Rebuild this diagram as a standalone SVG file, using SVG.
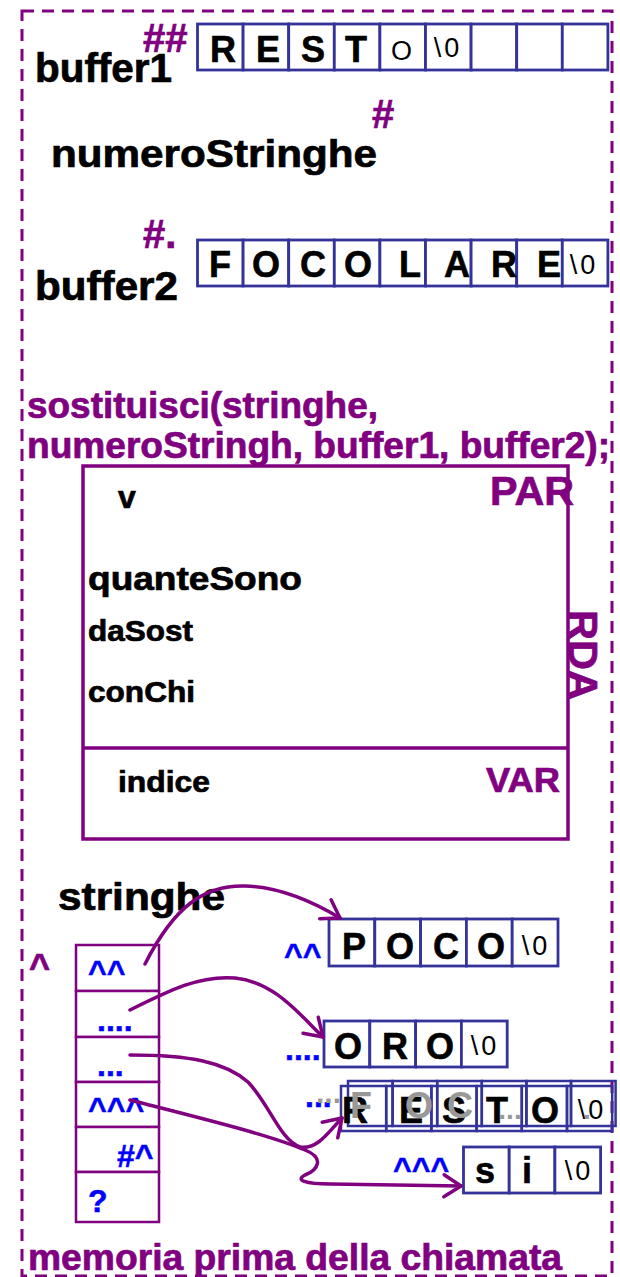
<svg xmlns="http://www.w3.org/2000/svg" width="620" height="1277" viewBox="0 0 620 1277">
<style>
  text { font-family: "Liberation Sans", Arial, sans-serif; font-weight: bold; }
  .blk { fill: #000; stroke: #000; stroke-width: 0.7px; }
  .pur { fill: #800080; stroke: #800080; stroke-width: 0.7px; }
  .gry { fill: #999999; }
  .cell { fill: #fff; stroke: #333399; stroke-width: 2.8; }
  .ocell { fill: none; stroke: #333399; stroke-width: 2.5; }
  .scell { fill: #fff; stroke: #800080; stroke-width: 2.5; }
  .ch { font-size: 36px; text-anchor: middle; fill: #000; stroke: #000; stroke-width: 0.6px; }
  .rg { font-weight: normal; font-size: 27px; text-anchor: middle; fill: #000; letter-spacing: 3px; }
  .mk { font-size: 32px; fill: #0000FF; stroke: #0000FF; stroke-width: 0.5px; }
  .conn { fill: none; stroke: #800080; stroke-width: 3.5; stroke-linecap: round; }
</style>
<defs>
  <marker id="arr" markerWidth="24" markerHeight="28" refX="20" refY="14" orient="auto" markerUnits="userSpaceOnUse" viewBox="0 0 24 28" overflow="visible">
    <path d="M3,3 L20,14 L3,25" fill="none" stroke="#800080" stroke-width="3.5" stroke-linecap="round" stroke-linejoin="round"/>
  </marker>
</defs>
<rect width="620" height="1277" fill="#fff"/>

<g id="frame">
  <rect x="22" y="11" width="590" height="1265" fill="none" stroke="#800080" stroke-width="3" stroke-dasharray="12 8"/>
</g>

<g id="buffer1">
  <text class="pur" x="143" y="52" font-size="40">##</text>
  <text class="blk" x="35" y="82" font-size="40" textLength="137" lengthAdjust="spacingAndGlyphs">buffer1</text>
  <rect class="cell" x="197.5" y="24" width="45.6" height="46"/>
  <rect class="cell" x="243.1" y="24" width="45.6" height="46"/>
  <rect class="cell" x="288.7" y="24" width="45.6" height="46"/>
  <rect class="cell" x="334.3" y="24" width="45.6" height="46"/>
  <rect class="cell" x="379.9" y="24" width="45.6" height="46"/>
  <rect class="cell" x="425.5" y="24" width="45.6" height="46"/>
  <rect class="cell" x="471.1" y="24" width="45.6" height="46"/>
  <rect class="cell" x="516.7" y="24" width="45.6" height="46"/>
  <rect class="cell" x="562.3" y="24" width="45.6" height="46"/>
  <text class="ch" x="223" y="62">R</text>
  <text class="ch" x="268" y="62">E</text>
  <text class="ch" x="313" y="62">S</text>
  <text class="ch" x="356" y="62">T</text>
  <text class="rg" x="403" y="60" font-size="29" letter-spacing="0">O</text>
  <text class="rg" x="448" y="57">\0</text>
</g>

<g id="numeroStringhe">
  <text class="pur" x="372" y="128" font-size="40">#</text>
  <text class="blk" x="51" y="167" font-size="39" textLength="326" lengthAdjust="spacingAndGlyphs">numeroStringhe</text>
</g>

<g id="buffer2">
  <text class="pur" x="143" y="248" font-size="40">#.</text>
  <text class="blk" x="35" y="300" font-size="40" textLength="143" lengthAdjust="spacingAndGlyphs">buffer2</text>
  <rect class="cell" x="197.5" y="240" width="45.6" height="46"/>
  <rect class="cell" x="243.1" y="240" width="45.6" height="46"/>
  <rect class="cell" x="288.7" y="240" width="45.6" height="46"/>
  <rect class="cell" x="334.3" y="240" width="45.6" height="46"/>
  <rect class="cell" x="379.9" y="240" width="45.6" height="46"/>
  <rect class="cell" x="425.5" y="240" width="45.6" height="46"/>
  <rect class="cell" x="471.1" y="240" width="45.6" height="46"/>
  <rect class="cell" x="516.7" y="240" width="45.6" height="46"/>
  <rect class="cell" x="562.3" y="240" width="45.6" height="46"/>
  <text class="ch" x="220" y="277">F</text>
  <text class="ch" x="266" y="277">O</text>
  <text class="ch" x="313" y="277">C</text>
  <text class="ch" x="358" y="277">O</text>
  <text class="ch" x="410" y="277">L</text>
  <text class="ch" x="457" y="277">A</text>
  <text class="ch" x="504" y="277">R</text>
  <text class="ch" x="549" y="277">E</text>
  <text class="rg" x="584" y="274">\0</text>
</g>

<g id="call">
  <text class="pur" x="27" y="418" font-size="36" textLength="351" lengthAdjust="spacingAndGlyphs">sostituisci(stringhe,</text>
  <text class="pur" x="27" y="458" font-size="36" textLength="583" lengthAdjust="spacingAndGlyphs">numeroStringh, buffer1, buffer2);</text>
</g>

<g id="rda">
  <rect x="83" y="466" width="485" height="373" fill="none" stroke="#800080" stroke-width="3.5"/>
  <line x1="83" y1="748" x2="568" y2="748" stroke="#800080" stroke-width="3.5"/>
  <text class="pur" x="490" y="505" font-size="40" textLength="84" lengthAdjust="spacingAndGlyphs">PAR</text>
  <text class="pur" transform="translate(569,610) rotate(90)" font-size="40" textLength="90" lengthAdjust="spacingAndGlyphs">RDA</text>
  <text class="pur" x="486" y="792" font-size="35" textLength="74" lengthAdjust="spacingAndGlyphs">VAR</text>
  <text class="blk" x="118" y="508" font-size="32">v</text>
  <text class="blk" x="88" y="590" font-size="33" textLength="214" lengthAdjust="spacingAndGlyphs">quanteSono</text>
  <text class="blk" x="88" y="641" font-size="29" textLength="105" lengthAdjust="spacingAndGlyphs">daSost</text>
  <text class="blk" x="88" y="702" font-size="29" textLength="107" lengthAdjust="spacingAndGlyphs">conChi</text>
  <text class="blk" x="118" y="792" font-size="29" textLength="92" lengthAdjust="spacingAndGlyphs">indice</text>
</g>

<g id="stringhe">
  <text class="blk" x="58" y="910" font-size="38" textLength="167" lengthAdjust="spacingAndGlyphs">stringhe</text>
  <text class="pur" x="29" y="979" font-size="36">^</text>
  <rect class="scell" x="76" y="945" width="83" height="46"/>
  <rect class="scell" x="76" y="991" width="83" height="46"/>
  <rect class="scell" x="76" y="1037" width="83" height="45"/>
  <rect class="scell" x="76" y="1082" width="83" height="45"/>
  <rect class="scell" x="76" y="1127" width="83" height="45"/>
  <rect class="scell" x="76" y="1172" width="83" height="50"/>
  <text class="mk" x="88" y="983">^^</text>
  <text class="mk" x="97" y="1031">....</text>
  <text class="mk" x="97" y="1076">...</text>
  <text class="mk" x="88" y="1120">^^^</text>
  <text class="mk" x="117" y="1167">#^</text>
  <text class="mk" x="88" y="1212">?</text>
</g>

<g id="poco">
  <text class="mk" x="284" y="966">^^</text>
  <rect class="cell" x="329" y="919" width="45.8" height="47"/>
  <rect class="cell" x="374.8" y="919" width="45.8" height="47"/>
  <rect class="cell" x="420.6" y="919" width="45.8" height="47"/>
  <rect class="cell" x="466.4" y="919" width="45.8" height="47"/>
  <rect class="cell" x="512.2" y="919" width="45.8" height="47"/>
  <text class="ch" x="354" y="959">P</text>
  <text class="ch" x="400" y="959">O</text>
  <text class="ch" x="446" y="959">C</text>
  <text class="ch" x="491" y="959">O</text>
  <text class="rg" x="536" y="955">\0</text>
</g>

<g id="oro">
  <text class="mk" x="285" y="1060">....</text>
  <rect class="cell" x="324" y="1021" width="45.8" height="46"/>
  <rect class="cell" x="369.8" y="1021" width="45.8" height="46"/>
  <rect class="cell" x="415.6" y="1021" width="45.8" height="46"/>
  <rect class="cell" x="461.4" y="1021" width="45.8" height="46"/>
  <text class="ch" x="348" y="1059">O</text>
  <text class="ch" x="395" y="1059">R</text>
  <text class="ch" x="440" y="1059">O</text>
  <text class="rg" x="485" y="1055">\0</text>
</g>

<g id="resto">
  <text class="mk" x="305" y="1107">...</text>
  <text class="gry" x="316" y="1103" font-size="30">...</text>
  <rect class="ocell" x="341" y="1086" width="45.2" height="45"/>
  <rect class="ocell" x="386.2" y="1086" width="45.2" height="45"/>
  <rect class="ocell" x="431.4" y="1086" width="45.2" height="45"/>
  <rect class="ocell" x="476.6" y="1086" width="45.2" height="45"/>
  <rect class="ocell" x="521.8" y="1086" width="45.2" height="45"/>
  <rect class="ocell" x="567" y="1086" width="45.2" height="45"/>
  <rect class="ocell" x="348" y="1081" width="44.6" height="45"/>
  <rect class="ocell" x="392.6" y="1081" width="44.6" height="45"/>
  <rect class="ocell" x="437.2" y="1081" width="44.6" height="45"/>
  <rect class="ocell" x="481.8" y="1081" width="44.6" height="45"/>
  <rect class="ocell" x="526.4" y="1081" width="44.6" height="45"/>
  <rect class="ocell" x="571" y="1081" width="44.6" height="45"/>
  <text class="ch" x="355" y="1123">R</text>
  <text class="ch" x="411" y="1123">E</text>
  <text class="ch" x="454" y="1123">S</text>
  <text class="ch" x="497" y="1123">T</text>
  <text class="ch" x="545" y="1123">O</text>
  <text class="rg" x="592" y="1119">\0</text>
  <text class="gry" x="361" y="1118" font-size="36" text-anchor="middle">F</text>
  <text class="gry" x="419" y="1118" font-size="36" text-anchor="middle">O</text>
  <text class="gry" x="460" y="1118" font-size="36" text-anchor="middle">C</text>
  <text class="gry" x="510" y="1119" font-size="28" text-anchor="middle">...</text>
  <text class="gry" x="587" y="1119" font-size="28" text-anchor="middle">.</text>
</g>

<g id="si">
  <text class="mk" x="393" y="1180">^^^</text>
  <rect class="cell" x="463.5" y="1147" width="45.7" height="46"/>
  <rect class="cell" x="509.2" y="1147" width="45.7" height="46"/>
  <rect class="cell" x="554.9" y="1147" width="45.7" height="46"/>
  <text class="ch" x="485" y="1183">s</text>
  <text class="ch" x="527" y="1183">i</text>
  <text class="rg" x="579" y="1180">\0</text>
</g>

<g id="connectors">
  <path class="conn" marker-end="url(#arr)" d="M145,964 C175,905 205,885 245,886 C280,887 315,903 340,918"/>
  <path class="conn" marker-end="url(#arr)" d="M130,1010 C170,990 200,975 235,978 C275,982 300,1015 323,1037"/>
  <path class="conn" marker-end="url(#arr)" d="M130,1055 C190,1055 225,1062 248,1082 C270,1105 280,1140 300,1147 C318,1150 330,1130 342,1118"/>
  <path class="conn" marker-end="url(#arr)" d="M130,1100 C200,1118 270,1135 305,1150 C325,1158 318,1170 305,1175 C295,1180 305,1184 330,1184 L461,1186"/>
</g>

<g id="footer">
  <text class="pur" x="28" y="1270" font-size="36" textLength="534" lengthAdjust="spacingAndGlyphs">memoria prima della chiamata</text>
</g>
</svg>
